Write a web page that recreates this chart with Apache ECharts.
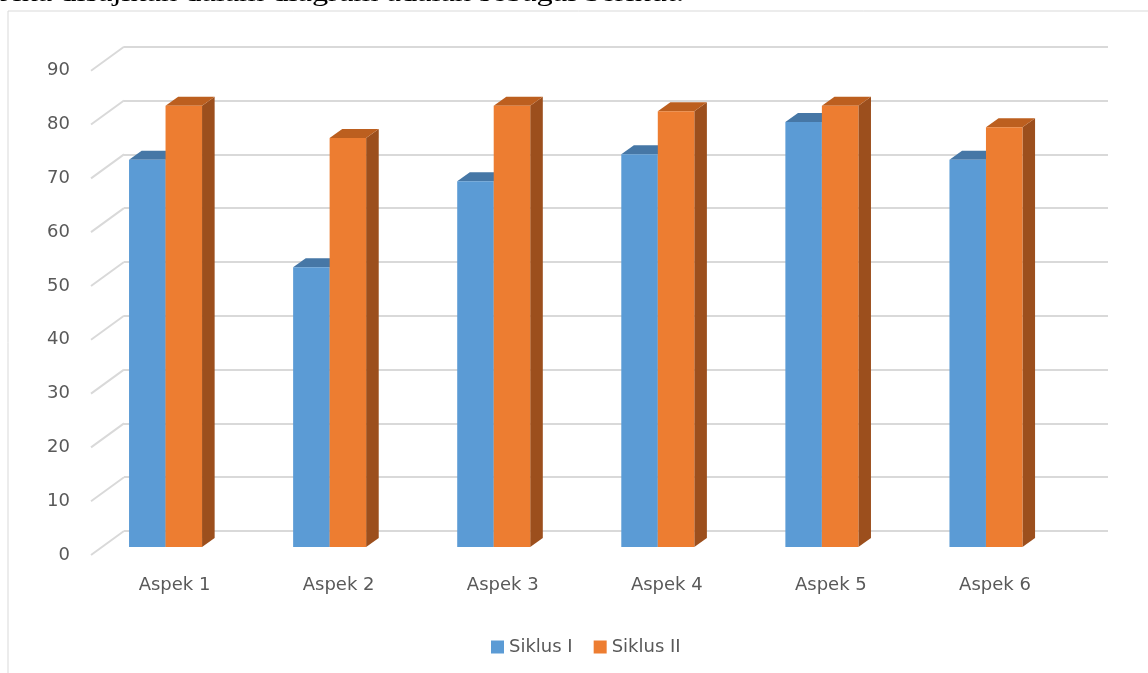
<!DOCTYPE html>
<html lang="id">
<head>
    <meta charset="UTF-8">
    <title>Siklus I dan Siklus II</title>
    <script src="https://cdn.jsdelivr.net/npm/echarts@6/dist/echarts.min.js"></script>
    <style>
        html, body { margin: 0; padding: 0; background: #fff; }
        #main { width: 1148px; height: 673px; }
    </style>
</head>
<body>
<div id="main"></div>
<script>
    // data
    const categories = ['Aspek 1', 'Aspek 2', 'Aspek 3', 'Aspek 4', 'Aspek 5', 'Aspek 6'];
    const siklus1 = [72, 52, 68, 73, 79, 72];
    const siklus2 = [82, 76, 82, 81, 82, 78];
    const yTicks = [0, 10, 20, 30, 40, 50, 60, 70, 80, 90];

    const gridColor = '#d9d9d9';
    const textColor = '#595959';
    const font = 'DejaVu Sans';

    // 3D-looking bar: front face, top face and right side face
    function barRender(side, topColor, sideColor) {
        return function (params, api) {
            let cat = api.value(0);
            let v = api.value(1);
            let top = api.coord([cat, v]);
            let base = api.coord([cat, 0]);
            let w = 36.5, dx = 12.6, dy = -9;
            let x0 = side === 0 ? top[0] - w : top[0];
            return {
                type: 'group',
                children: [
                    {
                        type: 'polygon',
                        shape: {points: [[x0 + w, top[1]], [x0 + w + dx, top[1] + dy], [x0 + w + dx, base[1] + dy], [x0 + w, base[1]]]},
                        style: {fill: sideColor}
                    },
                    {
                        type: 'polygon',
                        shape: {points: [[x0, top[1]], [x0 + w, top[1]], [x0 + w + dx, top[1] + dy], [x0 + dx, top[1] + dy]]},
                        style: {fill: topColor}
                    },
                    {
                        type: 'rect',
                        shape: {x: x0, y: top[1], width: w, height: base[1] - top[1]},
                        style: {fill: api.visual('color')}
                    }
                ]
            };
        };
    }

    // slanted floor/wall edges at the left of each gridline
    function slantRender(params, api) {
        let p = api.coord([0, api.value(0)]);
        return {
            type: 'line',
            shape: {x1: p[0] - 33, y1: p[1] + 24, x2: p[0], y2: p[1]},
            style: {stroke: gridColor, lineWidth: 2}
        };
    }

    let mychart = echarts.init(document.getElementById('main'));
    let option = {
        animation: false,
        textStyle: {fontFamily: font},
        graphic: [
            {
                type: 'rect',
                shape: {x: 8, y: 11, width: 1200, height: 700},
                style: {fill: 'none', stroke: gridColor, lineWidth: 1}
            },
            {
                type: 'text',
                x: 0, y: 7,
                scaleX: 1.245,
                style: {
                    text: 'Jika disajikan dalam diagram adalah sebagai berikut.',
                    font: '26px "Liberation Serif"',
                    fill: '#000',
                    textVerticalAlign: 'bottom'
                }
            }
        ],
        legend: {
            left: 486,
            top: 633,
            icon: 'rect',
            itemWidth: 13,
            itemHeight: 13,
            itemGap: 21,
            textStyle: {color: textColor, fontSize: 18, fontFamily: font},
            data: ['Siklus I', 'Siklus II']
        },
        grid: [
            // plane of the bars' front faces
            {left: 83.5, right: 80, top: 62.8, bottom: 126},
            // back wall
            {left: 124, right: 40, top: 46.7, bottom: 142},
            // front edge, carries the value labels
            {left: 91, right: 80, top: 70.7, bottom: 118}
        ],
        xAxis: [
            {
                gridIndex: 0,
                type: 'category',
                data: categories,
                axisLine: {show: false},
                axisTick: {show: false},
                axisLabel: {
                    color: textColor, fontSize: 18, margin: 29,
                    padding: [0, 0, 0, 18]
                }
            },
            {gridIndex: 1, type: 'value', min: 0, max: 1, show: false},
            {gridIndex: 2, type: 'value', min: 0, max: 1, show: false}
        ],
        yAxis: [
            {gridIndex: 0, type: 'value', min: 0, max: 90, interval: 10, show: false},
            {
                gridIndex: 1, type: 'value', min: 0, max: 90, interval: 10,
                axisLabel: {show: false},
                axisLine: {show: false},
                axisTick: {show: false},
                splitLine: {lineStyle: {color: gridColor, width: 2}}
            },
            {
                gridIndex: 2, type: 'value', min: 0, max: 90, interval: 10,
                axisLine: {show: false},
                axisTick: {show: false},
                splitLine: {show: false},
                axisLabel: {color: textColor, fontSize: 18, margin: 21}
            }
        ],
        series: [
            {
                type: 'custom',
                name: 'slant',
                xAxisIndex: 1,
                yAxisIndex: 1,
                silent: true,
                renderItem: slantRender,
                data: yTicks.map(function (t) { return [t]; }),
                encode: {y: 0}
            },
            {
                type: 'custom',
                name: 'Siklus I',
                itemStyle: {color: '#5b9bd5'},
                renderItem: barRender(0, '#4677a6', '#3d6a94'),
                data: siklus1.map(function (v, i) { return [i, v]; }),
                encode: {x: 0, y: 1}
            },
            {
                type: 'custom',
                name: 'Siklus II',
                itemStyle: {color: '#ed7d31'},
                renderItem: barRender(1, '#bc5f1f', '#9c4f1d'),
                data: siklus2.map(function (v, i) { return [i, v]; }),
                encode: {x: 0, y: 1}
            }
        ]
    };
    mychart.setOption(option);
</script>
</body>
</html>
